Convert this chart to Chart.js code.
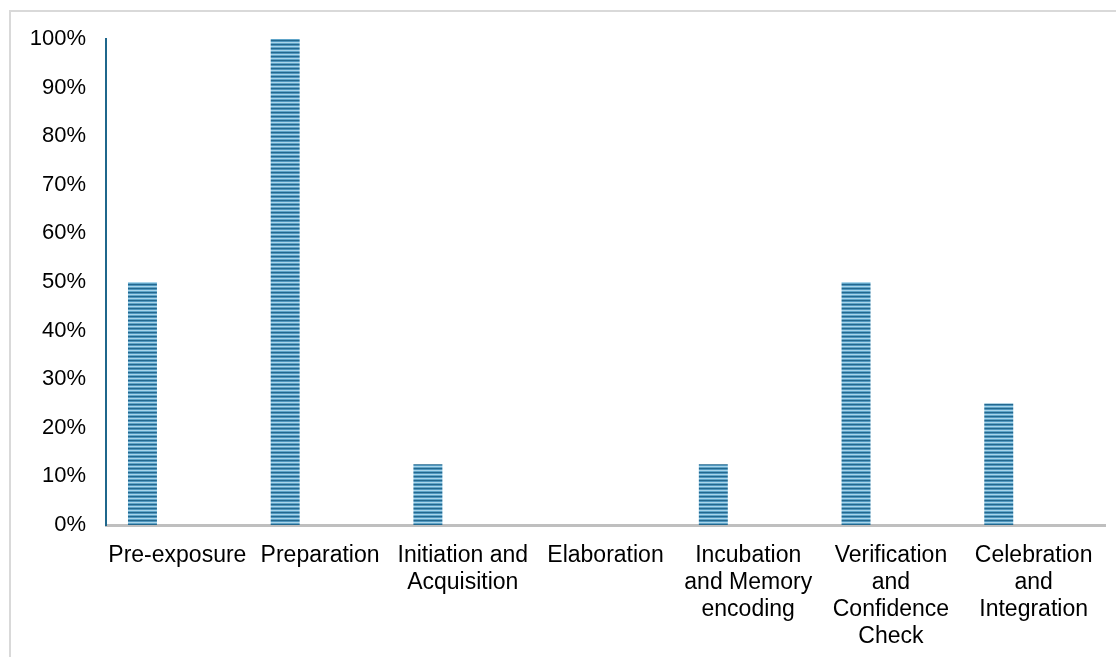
<!DOCTYPE html>
<html>
<head>
<meta charset="utf-8">
<script src="https://cdn.jsdelivr.net/npm/chart.js@4.4.1/dist/chart.umd.min.js"></script>
<style>
  html, body { margin: 0; padding: 0; background: #ffffff; overflow: hidden; }
  #wrap { position: relative; width: 1116px; height: 657px; }
  #frame { position: absolute; left: 9px; top: 10px; width: 1120px; height: 660px;
           border: 2px solid #d9d9d9; box-sizing: border-box; pointer-events: none; }
  canvas { position: absolute; left: 0; top: 0; }
</style>
</head>
<body>
<div id="wrap">
  <div id="frame"></div>
  <canvas id="chart" width="1116" height="657"></canvas>
</div>
<script>
// Phases of the learning cycle and the share observed for each
const categories = [
  "Pre-exposure",
  "Preparation",
  ["Initiation and", "Acquisition"],
  "Elaboration",
  ["Incubation", "and Memory", "encoding"],
  ["Verification", "and", "Confidence", "Check"],
  ["Celebration", "and", "Integration"]
];
const shareValues = [50, 100, 12.5, 0, 12.5, 50, 25];
const emptySeries = [null, null, null, null, null, null, null];
const yTicks = [0, 10, 20, 30, 40, 50, 60, 70, 80, 90, 100];

// Horizontal stripe fill for the bars
function stripePattern() {
  const c = document.createElement('canvas');
  c.width = 8; c.height = 4;
  const g = c.getContext('2d');
  const rows = ['#24688e', '#4f97bf', '#aad5ea', '#60a5c9'];
  rows.forEach((col, i) => { g.fillStyle = col; g.fillRect(0, i, 8, 1); });
  return document.getElementById('chart').getContext('2d').createPattern(c, 'repeat');
}

const FAMILY = "'Liberation Sans', Arial, sans-serif";

new Chart(document.getElementById('chart'), {
  type: 'bar',
  data: {
    labels: categories,
    datasets: [
      { data: shareValues, backgroundColor: stripePattern(), borderWidth: 0,
        barPercentage: 0.415, categoryPercentage: 0.978 },
      { data: emptySeries, backgroundColor: 'rgba(0,0,0,0)', borderWidth: 0,
        barPercentage: 0.415, categoryPercentage: 0.978 }
    ]
  },
  options: {
    responsive: false,
    animation: false,
    layout: { padding: { left: 0, top: 39, right: 11, bottom: 0 } },
    plugins: { legend: { display: false }, tooltip: { enabled: false } },
    scales: {
      x: {
        grid: { display: false, drawTicks: false },
        border: { display: true, color: '#bfbfbf', width: 3 },
        ticks: { color: '#000000', font: { family: FAMILY, size: 23, lineHeight: 1.174 },
                 padding: 17, maxRotation: 0, minRotation: 0, autoSkip: false },
        afterFit: s => { s.height = 657 - 525; }
      },
      y: {
        min: 0, max: 100,
        grid: { display: false, drawTicks: false },
        border: { display: true, color: '#1f678c', width: 2 },
        afterBuildTicks: s => { s.ticks = yTicks.map(v => ({ value: v })); },
        ticks: { color: '#000000', font: { family: FAMILY, size: 22 }, padding: 20,
                 callback: v => v + '%' },
        afterFit: s => { s.width = 106; }
      }
    }
  }
});
</script>
</body>
</html>
